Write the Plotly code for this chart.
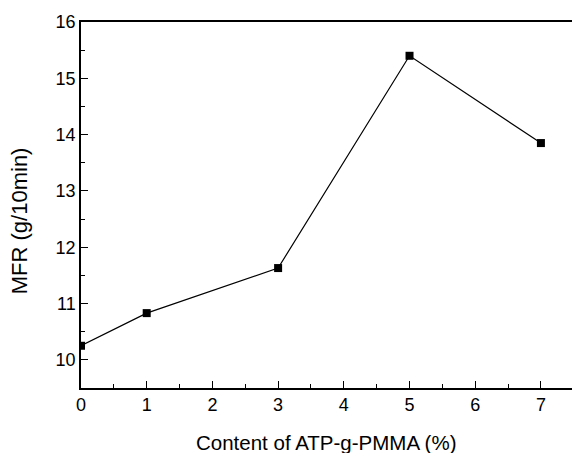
import plotly.graph_objects as go

content = [0, 1, 3, 5, 7]
mfr = [10.25, 10.83, 11.63, 15.40, 13.85]

fig = go.Figure()
fig.add_trace(go.Scatter(
    x=content, y=mfr, mode="lines+markers",
    line=dict(color="black", width=1.2),
    marker=dict(symbol="square", size=8, color="black"),
    showlegend=False,
))

fam = "Liberation Sans, Arial, sans-serif"
tickfont = dict(family=fam, size=18, color="black")
xtitlefont = dict(family=fam, size=20.5, color="black")
ytitlefont = dict(family=fam, size=22, color="black")
fig.update_layout(
    width=572, height=453,
    margin=dict(l=81, r=0, t=22, b=65),
    paper_bgcolor="white", plot_bgcolor="white",
    font=tickfont,
)
fig.add_annotation(
    text="MFR (g/10min)", xref="paper", yref="paper",
    x=-0.126, y=0.456, xanchor="center", yanchor="middle",
    textangle=-90, showarrow=False, font=ytitlefont,
)
fig.add_annotation(
    text="Content of ATP-g-PMMA (%)", xref="paper", yref="paper",
    x=0.5, y=-0.150, xanchor="center", yanchor="middle",
    showarrow=False, font=xtitlefont,
)
fig.update_xaxes(
    range=[0, 7.473], tickmode="linear", tick0=0, dtick=1,
    ticks="inside", ticklen=7, tickwidth=1.2, tickcolor="black",
    minor=dict(ticks="inside", ticklen=4, dtick=0.5, tickwidth=1.2, tickcolor="black"),
    showline=True, linecolor="black", linewidth=1.5, mirror=True,
    showgrid=False, zeroline=False,
    tickfont=tickfont,
)
fig.update_yaxes(
    range=[9.5, 16], tickmode="linear", tick0=10, dtick=1,
    ticks="inside", ticklen=7, tickwidth=1.2, tickcolor="black",
    minor=dict(ticks="inside", ticklen=4, dtick=0.5, tickwidth=1.2, tickcolor="black"),
    showline=True, linecolor="black", linewidth=1.5, mirror=False,
    showgrid=False, zeroline=False,
    tickfont=tickfont,
)
fig.write_html("out.html")
